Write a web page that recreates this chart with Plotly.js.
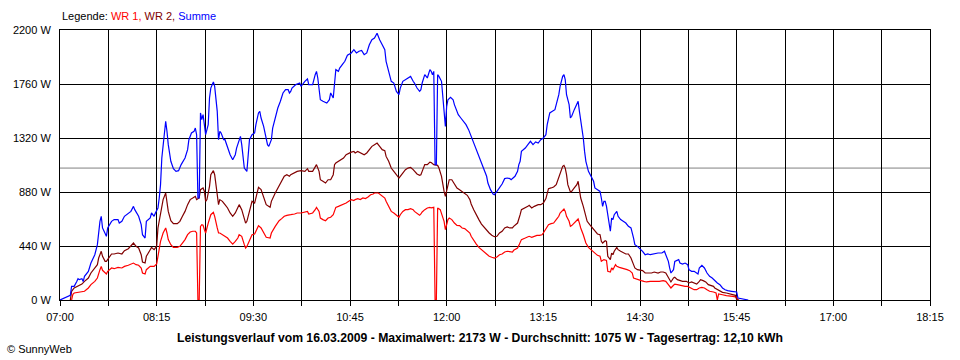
<!DOCTYPE html>
<html>
<head>
<meta charset="utf-8">
<script src="https://cdn.plot.ly/plotly-3.0.1.min.js"></script>
<style>html,body{margin:0;padding:0;background:#fff;}#chart{width:960px;height:360px;}</style>
</head>
<body>
<div id="chart"></div>
<script>
// ---- Data ----
const tickLabels = ["07:00","08:15","09:30","10:45","12:00","13:15","14:30","15:45","17:00","18:15"];
const yTicks = [0, 440, 880, 1320, 1760, 2200];
const yUnit = " W";
const durchschnitt = 1075;
const titleText = "Leistungsverlauf vom 16.03.2009 - Maximalwert: 2173 W - Durchschnitt: 1075 W - Tagesertrag: 12,10 kWh";

const sumTimes = ["07:00","07:04","07:06","07:08","07:09","07:11","07:13","07:14","07:15","07:17","07:18","07:19","07:22","07:24","07:27","07:29","07:31","07:32","07:33","07:35","07:36","07:37","07:40","07:42","07:45","07:46","07:48","07:50","07:53","07:55","07:57","07:58","08:01","08:03","08:04","08:06","08:07","08:10","08:11","08:13","08:14","08:16","08:17","08:18","08:19","08:21","08:22","08:23","08:24","08:26","08:28","08:30","08:32","08:34","08:37","08:39","08:40","08:42","08:44","08:45","08:46","08:47","08:48","08:49","08:50","08:51","08:52","08:53","08:55","08:56","08:57","08:59","09:00","09:02","09:03","09:04","09:05","09:07","09:08","09:10","09:12","09:14","09:16","09:17","09:19","09:20","09:21","09:22","09:23","09:25","09:26","09:27","09:29","09:31","09:32","09:34","09:35","09:36","09:38","09:40","09:41","09:42","09:44","09:45","09:47","09:49","09:51","09:53","09:55","09:57","09:58",
"09:59","10:00","10:03","10:06","10:07","10:10","10:12","10:13","10:16","10:18","10:19","10:20","10:22","10:24","10:26","10:27","10:29","10:30","10:32","10:33","10:34","10:36","10:37","10:39","10:41","10:43","10:46","10:48","10:50","10:52","10:54","10:56","10:58","11:00","11:02","11:04","11:06","11:08","11:10","11:12","11:13","11:15","11:17","11:19","11:21","11:23","11:24","11:26","11:28","11:30","11:32","11:34","11:35","11:37","11:39","11:40","11:41","11:43","11:45","11:47","11:48","11:49","11:50","11:51","11:52","11:53","11:54","11:56","11:57","11:58","11:59","12:00","12:01","12:03","12:05","12:06","12:07","12:09","12:11","12:13","12:15","12:17","12:19","12:21","12:23","12:25","12:27","12:29","12:31","12:32","12:34","12:36","12:37","12:39","12:41","12:43","12:45","12:47","12:49","12:50","12:53","12:55","12:56",
"12:57","12:58","13:01","13:03","13:05","13:07","13:09","13:11","13:13","13:15","13:17","13:18","13:20","13:22","13:24","13:25","13:27","13:28","13:30","13:31","13:32","13:33","13:35","13:36","13:37","13:39","13:41","13:42","13:43","13:45","13:46","13:47","13:48","13:50","13:52","13:54","13:55","13:57","13:59","14:00","14:01","14:02","14:03","14:04","14:06","14:07","14:08","14:09","14:10","14:12","14:13","14:15","14:17","14:19","14:21","14:23","14:25","14:26","14:28","14:30","14:32","14:34","14:36","14:38","14:40","14:42","14:44","14:47","14:49","14:50","14:52","14:53","14:54","14:56","14:57","15:00","15:01","15:03","15:05","15:07","15:08","15:10","15:12","15:15","15:16","15:18","15:20","15:22","15:24","15:26","15:28","15:30","15:32","15:34","15:36","15:38","15:41","15:43","15:45","15:46","15:49","15:52","15:54"];
const sumValues = [0,16,30,38,111,111,150,174,166,174,150,193,233,301,369,451,641,682,587,532,519,587,641,655,655,627,641,682,709,722,763,736,682,614,532,505,641,668,709,682,709,750,831,940,1157,1401,1456,1374,1266,1130,1070,1048,1054,1103,1157,1225,1306,1361,1374,1401,1347,831,831,1524,1469,1510,1401,1347,1429,1646,1727,1776,1741,1537,1306,1374,1361,1306,1306,1238,1184,1143,1184,1238,1306,1333,1266,1157,1075,1048,1170,1306,1347,1361,1429,1524,1537,1483,1415,1320,1266,1252,1306,1401,1483,1564,1619,1687,1714,1714,1687,
1700,1727,1755,1768,1741,1782,1801,1755,1755,1836,1863,1809,1632,1619,1605,1605,1632,1687,1646,1755,1877,1863,1890,1918,1945,1994,2013,2040,2013,2027,2033,1999,2013,2080,2121,2135,2173,2121,2080,2040,1945,1863,1782,1768,1700,1673,1727,1782,1795,1809,1822,1782,1768,1727,1700,1714,1768,1836,1809,1877,1863,1836,1863,1103,1103,1836,1822,1782,1632,1551,1415,1578,1632,1651,1632,1592,1564,1510,1483,1456,1429,1388,1333,1279,1225,1184,1130,1075,1008,953,899,864,858,885,913,945,989,994,989,980,1008,1048,1103,
1130,1211,1238,1266,1293,1266,1288,1279,1306,1320,1347,1429,1524,1537,1551,1592,1673,1741,1822,1836,1795,1673,1592,1483,1497,1551,1605,1619,1537,1401,1320,1211,1130,1048,1008,967,913,899,885,831,763,804,804,763,641,560,668,655,695,722,682,655,641,627,600,587,505,451,437,418,397,369,375,369,375,375,383,383,397,369,315,261,220,247,315,329,301,293,301,288,247,234,234,212,261,283,261,220,193,179,158,139,125,98,84,76,71,71,65,16,8,3,0];

const wr2Times = ["07:08","07:09","07:11","07:14","07:17","07:19","07:22","07:24","07:27","07:29","07:30","07:32","07:33","07:35","07:36","07:38","07:40","07:42","07:45","07:48","07:50","07:53","07:55","07:57","07:59","08:01","08:03","08:04","08:06","08:07","08:10","08:11","08:13","08:15","08:16","08:18","08:20","08:22","08:23","08:24","08:26","08:28","08:31","08:33","08:35","08:37","08:39","08:41","08:43","08:45","08:46","08:48","08:49","08:51","08:52","08:53","08:54","08:56","08:57","08:59","09:00","09:02","09:03","09:04","09:06","09:08","09:10","09:12","09:14","09:16","09:18","09:19","09:21","09:23","09:24","09:25","09:27","09:29","09:31","09:32","09:34","09:36","09:38","09:40","09:43","09:44","09:47","09:49","09:50","09:52","09:54","09:56","09:58",
"09:59","10:02","10:04","10:07","10:10","10:12","10:13","10:16","10:18","10:19","10:21","10:22","10:24","10:26","10:28","10:30","10:32","10:33","10:34","10:36","10:38","10:40","10:42","10:44","10:46","10:48","10:49","10:51","10:53","10:56","10:58","11:00","11:02","11:04","11:06","11:08","11:10","11:12","11:13","11:15","11:17","11:19","11:21","11:23","11:24","11:26","11:28","11:30","11:32","11:34","11:35","11:37","11:39","11:40","11:41","11:43","11:45","11:47","11:48","11:50","11:53","11:54","11:56","11:57","11:58","11:59","12:01","12:02","12:04","12:06","12:08","12:10","12:12","12:14","12:16","12:18","12:19","12:21","12:23","12:25","12:27","12:29","12:31","12:33","12:35","12:37","12:39","12:41","12:43","12:45","12:47","12:49","12:51","12:52","12:55","12:56",
"12:57","12:58","13:01","13:03","13:04","13:06","13:08","13:10","13:11","13:13","13:15","13:17","13:18","13:19","13:21","13:23","13:25","13:27","13:28","13:30","13:31","13:32","13:33","13:34","13:36","13:37","13:39","13:41","13:42","13:43","13:44","13:46","13:48","13:49","13:51","13:53","13:55","13:57","13:59","14:00","14:01","14:03","14:04","14:05","14:07","14:08","14:09","14:10","14:12","14:13","14:15","14:17","14:19","14:21","14:23","14:25","14:26","14:28","14:31","14:32","14:34","14:36","14:39","14:41","14:44","14:46","14:48","14:50","14:52","14:54","14:56","14:57","14:59","15:01","15:03","15:06","15:08","15:10","15:12","15:14","15:16","15:17","15:19","15:21","15:23","15:25","15:27","15:28","15:30","15:32","15:34","15:37","15:40","15:42","15:44","15:45","15:47"];
const wr2Values = [0,71,98,111,130,152,179,220,261,288,342,397,356,315,315,342,375,375,383,375,402,418,437,464,437,424,369,310,302,356,410,429,410,437,587,722,818,872,804,722,646,622,622,641,682,722,777,818,831,845,818,831,899,913,886,804,818,926,1021,1054,1021,858,777,818,804,777,750,709,682,709,750,777,736,668,627,641,722,804,790,831,918,899,831,777,755,804,872,913,926,967,1008,1021,1008,
1021,1035,1048,1054,1048,1070,1048,1048,1089,1103,1048,980,967,953,980,980,1021,1103,1116,1130,1143,1157,1184,1198,1205,1211,1198,1211,1198,1184,1198,1225,1252,1266,1279,1252,1225,1217,1170,1130,1075,1048,1021,994,1008,1035,1062,1075,1080,1062,1048,1027,1016,1021,1048,1103,1103,1124,1121,1103,1097,1075,1008,940,885,845,953,980,980,940,913,899,885,872,853,818,782,736,690,655,619,592,565,546,527,516,519,546,560,587,595,587,587,600,627,655,
695,736,750,763,771,750,763,771,777,777,790,826,872,907,913,921,940,994,1035,1089,1097,1075,1021,940,880,885,913,940,967,899,831,763,695,641,614,587,560,538,532,478,464,483,478,356,329,383,369,397,429,410,397,383,375,375,342,288,261,247,239,239,220,220,220,228,220,228,228,220,179,147,179,185,166,160,152,152,139,147,139,130,152,166,158,147,125,120,111,98,84,71,62,57,49,43,38,3,0];

const wr1Times = ["07:09","07:10","07:11","07:14","07:17","07:19","07:22","07:24","07:27","07:29","07:31","07:32","07:33","07:35","07:36","07:37","07:40","07:42","07:45","07:48","07:50","07:53","07:55","07:57","07:59","08:01","08:03","08:04","08:06","08:07","08:10","08:11","08:13","08:15","08:16","08:18","08:20","08:22","08:23","08:24","08:26","08:28","08:31","08:33","08:35","08:37","08:39","08:41","08:43","08:45","08:46","08:47","08:48","08:49","08:50","08:51","08:52","08:53","08:55","08:57","08:59","09:00","09:02","09:03","09:04","09:06","09:08","09:10","09:12","09:14","09:16","09:18","09:19","09:21","09:23","09:24","09:25","09:27","09:29","09:31","09:33","09:34","09:36","09:38","09:40","09:43","09:44","09:47","09:49","09:50","09:52","09:54","09:56","09:58",
"09:59","10:02","10:04","10:07","10:10","10:12","10:13","10:16","10:18","10:19","10:21","10:22","10:24","10:26","10:28","10:30","10:32","10:33","10:34","10:36","10:38","10:40","10:42","10:44","10:46","10:48","10:49","10:51","10:53","10:55","10:57","10:59","11:01","11:03","11:04","11:07","11:09","11:10","11:12","11:13","11:15","11:17","11:19","11:21","11:23","11:24","11:26","11:28","11:30","11:32","11:34","11:35","11:37","11:39","11:40","11:41","11:43","11:45","11:47","11:48","11:50","11:51","11:52","11:53","11:55","11:56","11:58","11:59","12:01","12:02","12:04","12:06","12:08","12:10","12:12","12:14","12:16","12:18","12:19","12:21","12:23","12:25","12:27","12:29","12:31","12:33","12:35","12:37","12:39","12:41","12:43","12:45","12:47","12:49","12:51","12:52","12:55","12:56",
"12:57","12:58","13:01","13:03","13:04","13:06","13:08","13:10","13:12","13:14","13:15","13:17","13:19","13:21","13:23","13:25","13:27","13:28","13:30","13:31","13:32","13:33","13:35","13:36","13:37","13:39","13:41","13:42","13:43","13:44","13:46","13:48","13:50","13:52","13:54","13:55","13:57","13:59","14:00","14:02","14:04","14:05","14:07","14:08","14:09","14:11","14:12","14:14","14:16","14:18","14:20","14:22","14:24","14:25","14:27","14:29","14:31","14:33","14:35","14:38","14:40","14:43","14:45","14:48","14:50","14:52","14:54","14:56","14:57","14:59","15:02","15:05","15:07","15:10","15:12","15:14","15:16","15:18","15:20","15:22","15:24","15:27","15:29","15:30","15:31","15:34","15:37","15:42","15:45","15:46"];
const wr1Values = [0,47,57,62,71,71,98,125,152,179,247,274,242,220,212,234,261,255,266,261,274,283,293,301,288,283,261,220,212,247,274,274,274,293,369,478,546,587,546,492,451,429,429,437,464,492,532,554,560,560,546,0,0,600,614,609,573,546,627,695,714,682,587,546,546,532,519,505,478,456,478,505,532,519,451,424,437,478,532,538,587,606,587,546,511,505,546,600,627,646,663,682,690,690,
695,701,709,709,717,722,701,709,736,755,722,668,655,646,668,674,695,736,755,763,771,777,790,804,818,810,818,826,818,831,826,839,858,864,872,872,853,845,831,804,763,722,709,690,674,695,722,736,736,744,736,722,709,690,701,717,736,750,755,750,755,0,0,750,736,709,641,573,655,668,655,627,608,606,587,582,565,546,519,483,456,429,410,388,369,356,348,342,350,369,375,391,397,397,391,405,424,445,
464,492,505,511,519,511,519,527,527,532,546,581,614,622,627,655,682,709,736,741,722,682,641,600,606,627,646,660,627,587,532,464,429,410,391,375,364,356,315,329,322,234,228,261,247,288,274,266,261,255,247,239,220,179,174,166,158,152,147,152,152,147,152,158,152,125,98,120,130,125,117,111,111,92,84,84,98,103,98,84,71,65,57,0,50,43,35,30,24,0];

// ---- Helpers ----
function toMin(s) { const p = s.split(":").map(Number); return p[0] * 60 + p[1]; }
const tickVals = tickLabels.map(toMin);

const FONT = "Liberation Sans, Arial, sans-serif";

const traces = [
  { name: "WR 1", x: wr1Times.map(toMin), y: wr1Values, mode: "lines", line: { color: "#FF0000", width: 1.2 }, hoverinfo: "skip" },
  { name: "WR 2", x: wr2Times.map(toMin), y: wr2Values, mode: "lines", line: { color: "#800000", width: 1.2 }, hoverinfo: "skip" },
  { name: "Summe", x: sumTimes.map(toMin), y: sumValues, mode: "lines", line: { color: "#0000FF", width: 1.2 }, hoverinfo: "skip" }
];

const layout = {
  width: 960, height: 360,
  margin: { l: 60, r: 30, t: 30, b: 60, pad: 0 },
  paper_bgcolor: "#FFFFFF", plot_bgcolor: "#FFFFFF",
  showlegend: false,
  font: { family: FONT, size: 11, color: "#000000" },
  xaxis: {
    type: "linear",
    range: [tickVals[0], tickVals[tickVals.length - 1]],
    tickmode: "array", tickvals: tickVals, ticktext: tickLabels,
    ticks: "outside", ticklen: 5, tickwidth: 1, tickcolor: "#000000",
    showgrid: true, gridcolor: "#000000", gridwidth: 1,
    minor: { tick0: tickVals[0], dtick: (tickVals[1] - tickVals[0]) / 2, showgrid: true, gridcolor: "#000000", gridwidth: 1, ticks: "outside", ticklen: 5, tickcolor: "#000000" },
    showline: true, linecolor: "#000000", linewidth: 1, mirror: true,
    zeroline: false, fixedrange: true, ticklabelstandoff: 2,
    tickfont: { family: FONT, size: 11, color: "#000000" }
  },
  yaxis: {
    range: [yTicks[0], yTicks[yTicks.length - 1]],
    tickmode: "array", tickvals: yTicks, ticktext: yTicks.map(v => v + yUnit),
    ticks: "", showgrid: true, gridcolor: "#000000", gridwidth: 1,
    showline: true, linecolor: "#000000", linewidth: 1, mirror: true,
    zeroline: false, fixedrange: true, ticklabelstandoff: 6,
    tickfont: { family: FONT, size: 11, color: "#000000" }
  },
  shapes: [
    { type: "line", xref: "paper", x0: 0, x1: 1, yref: "y", y0: durchschnitt, y1: durchschnitt, line: { color: "#808080", width: 1 }, layer: "below" }
  ],
  annotations: [
    { xref: "paper", yref: "paper", x: 0, y: 1.05, xanchor: "left", yanchor: "middle", showarrow: false,
      text: "Legende: <span style=\"color:#FF0000\">WR 1,</span> <span style=\"color:#800000\">WR 2,</span> <span style=\"color:#0000FF\">Summe</span>",
      font: { family: FONT, size: 11, color: "#000000" } },
    { xref: "paper", yref: "paper", x: 0.4828, y: -0.1407, xanchor: "center", yanchor: "middle", showarrow: false,
      text: "<b>" + titleText + "</b>", font: { family: FONT, size: 12.2, color: "#000000" } },
    { xref: "paper", yref: "paper", x: -0.063, y: -0.1815, xanchor: "left", yanchor: "middle", showarrow: false,
      text: "© SunnyWeb", font: { family: FONT, size: 11, color: "#000000" } }
  ]
};

Plotly.newPlot("chart", traces, layout, { staticPlot: true, displayModeBar: false });
</script>
</body>
</html>
